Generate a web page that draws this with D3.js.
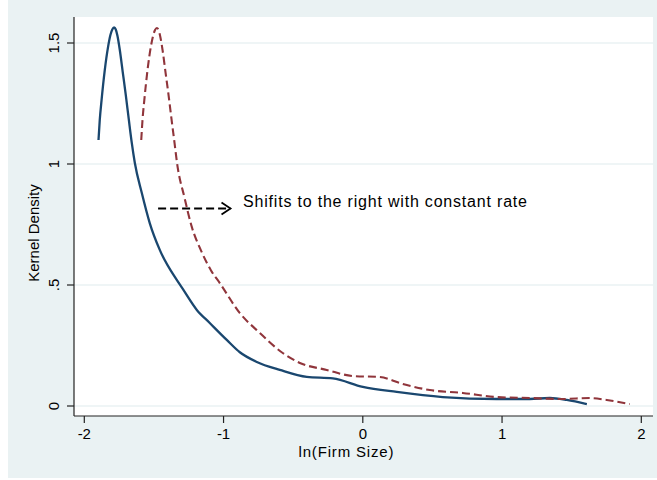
<!DOCTYPE html>
<html>
<head>
<meta charset="utf-8">
<script src="https://cdn.jsdelivr.net/npm/d3@7"></script>
<style>
  body { margin: 0; background: #fff; }
  text { font-family: "Liberation Sans", Arial, sans-serif; fill: #000; }
</style>
</head>
<body>
<div id="chart"></div>
<script>
// kernel density estimates
const baseX = [-1.898, -1.889, -1.876, -1.853, -1.829, -1.812, -1.799, -1.786, -1.774, -1.762, -1.745, -1.724, -1.702, -1.680, -1.659, -1.637, -1.587, -1.530, -1.458, -1.336, -1.300, -1.192, -1.099, -0.977, -0.883, -0.761, -0.596, -0.402, -0.215, 0.000, 0.244, 0.574, 0.962, 1.199, 1.343, 1.465, 1.609];
const baseY = [1.099, 1.182, 1.264, 1.388, 1.485, 1.534, 1.556, 1.564, 1.556, 1.530, 1.471, 1.380, 1.285, 1.182, 1.087, 1.004, 0.880, 0.756, 0.645, 0.521, 0.490, 0.397, 0.343, 0.273, 0.222, 0.182, 0.149, 0.120, 0.114, 0.079, 0.058, 0.037, 0.029, 0.029, 0.033, 0.025, 0.008];
const shiftX = [-1.591, -1.582, -1.569, -1.546, -1.522, -1.505, -1.492, -1.479, -1.467, -1.455, -1.438, -1.417, -1.395, -1.373, -1.352, -1.334, -1.280, -1.228, -1.160, -1.090, -1.027, -0.883, -0.740, -0.575, -0.452, -0.259, -0.072, 0.122, 0.287, 0.481, 0.718, 0.962, 1.199, 1.436, 1.630, 1.752, 1.917];
const shiftY = [1.099, 1.182, 1.264, 1.388, 1.485, 1.532, 1.554, 1.562, 1.554, 1.528, 1.471, 1.380, 1.285, 1.182, 1.087, 1.004, 0.860, 0.740, 0.640, 0.560, 0.508, 0.384, 0.302, 0.219, 0.178, 0.149, 0.124, 0.120, 0.091, 0.066, 0.054, 0.037, 0.033, 0.029, 0.033, 0.025, 0.008];

const xTicks = [-2, -1, 0, 1, 2];
const yTicks = [0, 0.5, 1, 1.5];
const yTickLabels = ['0', '.5', '1', '1.5'];
const note = 'Shifits to the right with constant rate';

const W = 657, H = 480;
const plot = {left: 74, top: 17, right: 653, bottom: 416};

const x = d3.scaleLinear().domain([-2, 2]).range([84.3, 641.3]);
const y = d3.scaleLinear().domain([0, 1.5]).range([406, 43]);

const svg = d3.select('#chart').append('svg')
    .attr('width', W)
    .attr('height', H);

// graph region + plot region
svg.append('rect').attr('x', 8).attr('y', 0).attr('width', W - 8).attr('height', 478).attr('fill', '#eaf2f3');
svg.append('rect')
    .attr('x', plot.left).attr('y', plot.top)
    .attr('width', plot.right - plot.left).attr('height', plot.bottom - plot.top)
    .attr('fill', '#fff');

// gridlines
svg.selectAll('.grid').data(yTicks).enter()
    .append('line')
    .attr('class', 'grid')
    .attr('x1', plot.left).attr('x2', plot.right)
    .attr('y1', y).attr('y2', y)
    .attr('stroke', '#eaf2f3')
    .attr('stroke-width', 1.3);

// y axis
svg.append('line')
    .attr('x1', plot.left).attr('x2', plot.left)
    .attr('y1', plot.top).attr('y2', plot.bottom)
    .attr('stroke', '#222').attr('stroke-width', 1.2);
svg.selectAll('.ytick').data(yTicks).enter()
    .append('line')
    .attr('class', 'ytick')
    .attr('x1', plot.left - 7).attr('x2', plot.left)
    .attr('y1', y).attr('y2', y)
    .attr('stroke', '#222').attr('stroke-width', 1.2);
svg.selectAll('.ylab').data(yTicks).enter()
    .append('text')
    .attr('class', 'ylab')
    .attr('transform', d => 'translate(59,' + y(d) + ') rotate(-90)')
    .attr('text-anchor', 'middle')
    .attr('font-size', 15)
    .text((d, i) => yTickLabels[i]);
svg.append('text')
    .attr('transform', 'translate(38.5,233) rotate(-90)')
    .attr('text-anchor', 'middle')
    .attr('font-size', 15)
    .text('Kernel Density');

// x axis
svg.append('line')
    .attr('x1', plot.left).attr('x2', plot.right)
    .attr('y1', plot.bottom).attr('y2', plot.bottom)
    .attr('stroke', '#222').attr('stroke-width', 1.2);
svg.selectAll('.xtick').data(xTicks).enter()
    .append('line')
    .attr('class', 'xtick')
    .attr('x1', x).attr('x2', x)
    .attr('y1', plot.bottom).attr('y2', plot.bottom + 7)
    .attr('stroke', '#222').attr('stroke-width', 1.2);
svg.selectAll('.xlab').data(xTicks).enter()
    .append('text')
    .attr('class', 'xlab')
    .attr('x', x)
    .attr('y', 439)
    .attr('text-anchor', 'middle')
    .attr('font-size', 15)
    .text(d => d);
svg.append('text')
    .attr('x', 346)
    .attr('y', 456.5)
    .attr('text-anchor', 'middle')
    .attr('font-size', 15)
    .attr('textLength', 95)
    .attr('lengthAdjust', 'spacing')
    .text('ln(Firm Size)');

// density curves
const line = d3.line()
    .x(d => x(d[0]))
    .y(d => y(d[1]))
    .curve(d3.curveMonotoneX);

svg.append('path')
    .datum(d3.zip(baseX, baseY))
    .attr('d', line)
    .attr('fill', 'none')
    .attr('stroke', '#1a476f')
    .attr('stroke-width', 2.3);

svg.append('path')
    .datum(d3.zip(shiftX, shiftY))
    .attr('d', line)
    .attr('fill', 'none')
    .attr('stroke', '#90353b')
    .attr('stroke-width', 2.1)
    .attr('stroke-dasharray', '8,4');

// annotation arrow
const arrowY = y(0.816);
svg.append('line')
    .attr('x1', x(-1.47)).attr('x2', x(-0.95))
    .attr('y1', arrowY).attr('y2', arrowY)
    .attr('stroke', '#000')
    .attr('stroke-width', 2)
    .attr('stroke-dasharray', '8,4');
svg.append('path')
    .attr('d', 'M' + (x(-0.95) - 9) + ',' + (arrowY - 6) + 'L' + x(-0.95) + ',' + arrowY + 'L' + (x(-0.95) - 9) + ',' + (arrowY + 6))
    .attr('fill', 'none')
    .attr('stroke', '#000')
    .attr('stroke-width', 1.8);
svg.append('text')
    .attr('x', 243)
    .attr('y', 207)
    .attr('font-size', 16)
    .attr('textLength', 284)
    .attr('lengthAdjust', 'spacing')
    .text(note);
</script>
</body>
</html>
